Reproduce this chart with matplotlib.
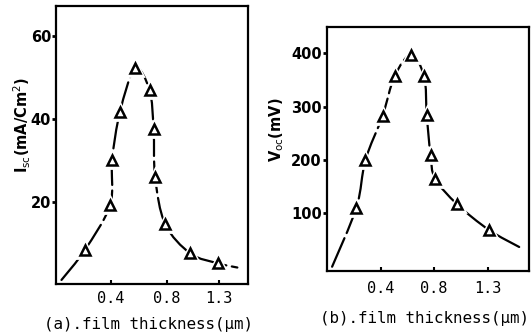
"""Isc and Voc versus film thickness, two panels (scanned figure look)."""

import matplotlib
matplotlib.use('Agg')
import matplotlib.pyplot as plt
from matplotlib.path import Path
from matplotlib.patches import PathPatch
import numpy as np

# panel (a): short-circuit current vs thickness
thick_a = [0.21, 0.395, 0.41, 0.466, 0.573, 0.677, 0.706, 0.717, 0.789, 1.026, 1.293]
isc = [8.3, 19.2, 30.1, 41.7, 52.2, 47.0, 37.5, 25.9, 14.6, 7.5, 5.1]
# where the drawn curve starts and ends
ends_a_x = [0.04, 1.475]
ends_a_y = [1.1, 4.1]

# panel (b): open-circuit voltage vs thickness
thick_b = [0.22, 0.287, 0.414, 0.504, 0.627, 0.726, 0.746, 0.774, 0.811, 1.014, 1.306]
voc = [111, 200, 283, 357, 397, 357, 284, 210, 165, 117, 69]
ends_b_x = [0.04, 1.585]
ends_b_y = [0, 37]

xticks = [0.4, 0.8, 1.3]
xtick_labels = ['0.4', '0.8', '1.3']
yticks_a = [20, 40, 60]
yticks_b = [100, 200, 300, 400]

# the hand-drawn x axis is not linear: ticks sit almost evenly spaced
KNOT_T = [0.0, 0.4, 0.8, 1.3, 2.0]
KNOT_A = [0.0, 54.7, 110.7, 163.0, 236.2]
KNOT_B = [0.0, 54.0, 107.3, 161.6, 237.6]

MONO = 'DejaVu Sans Mono'


def make_scale(knots):
    fwd = lambda t: np.interp(t, KNOT_T, knots)
    inv = lambda u: np.interp(u, knots, KNOT_T)
    return fwd, inv


def smooth_path(xs, ys, fwd, inv, ysc):
    # Catmull-Rom through the points, as cubic Bezier segments
    p = np.column_stack([fwd(np.asarray(xs, float)), np.asarray(ys, float) * ysc])
    p = np.vstack([p[0], p, p[-1]])
    verts = [p[1]]
    codes = [Path.MOVETO]
    for i in range(1, len(p) - 2):
        c1 = p[i] + (p[i + 1] - p[i - 1]) / 6
        c2 = p[i + 1] - (p[i + 2] - p[i]) / 6
        verts += [c1, c2, p[i + 1]]
        codes += [Path.CURVE4] * 3
    v = np.array(verts)
    v[:, 0] = inv(v[:, 0])
    v[:, 1] = v[:, 1] / ysc
    return Path(v, codes)


def draw_panel(ax, xs, ys, ex, ey, knots, ysc):
    fwd, inv = make_scale(knots)
    ax.set_xscale('function', functions=(fwd, inv))
    line_x = [ex[0]] + list(xs) + [ex[1]]
    line_y = [ey[0]] + list(ys) + [ey[1]]
    path = smooth_path(line_x, line_y, fwd, inv, ysc)
    ax.add_patch(PathPatch(path, fill=False, ec='black', lw=1.6,
                           ls=(0, (14, 2.5)), capstyle='round', zorder=2))
    # white halo so the line breaks around each triangle
    ax.plot(xs, ys, ls='none', marker='^', ms=11, mfc='white', mec='white',
            mew=2, zorder=3)
    ax.plot(xs, ys, ls='none', marker='^', ms=7.5, mfc='white', mec='black',
            mew=1.8, zorder=4)
    for s in ax.spines.values():
        s.set_linewidth(1.6)
    ax.set_xticks(xticks, xtick_labels, fontfamily=MONO, fontsize=11)
    ax.tick_params(axis='x', direction='in', length=3, width=1.5)
    ax.tick_params(axis='y', direction='out', length=3, width=2, pad=0.5,
                   labelsize=10.5)


fig = plt.figure(figsize=(5.32, 3.36), dpi=100)

# ysc: pixels per y unit, so the curve is smoothed in screen proportions
ax_a = fig.add_axes([0.1053, 0.1533, 0.3615, 0.8289])
draw_panel(ax_a, thick_a, isc, ends_a_x, ends_a_y, KNOT_A, 4.14)
ax_a.set_xlim(0, 1.58)
ax_a.set_ylim(0, 67.3)
ax_a.set_yticks(yticks_a)
for lab in ax_a.get_yticklabels():
    lab.set_fontweight('bold')
ax_a.tick_params(axis='x', pad=5)

ax_b = fig.add_axes([0.6141, 0.1935, 0.3808, 0.7253])
draw_panel(ax_b, thick_b, voc, ends_b_x, ends_b_y, KNOT_B, 0.533)
ax_b.set_xlim(0, 1.678)
ax_b.set_ylim(-8, 449)
ax_b.set_yticks(yticks_b)
for lab in ax_b.get_yticklabels():
    lab.set_fontweight('bold')
ax_b.tick_params(axis='x', pad=7)

# axis titles
fig.text(22 / 532, 1 - 125 / 336, r'I$_{\rm sc}$(mA/Cm$^{2}$)', rotation=90,
         ha='center', va='center', fontsize=10.5, fontweight='bold')
fig.text(277 / 532, 1 - 130 / 336, r'V$_{\rm oc}$(mV)', rotation=90,
         ha='center', va='center', fontsize=10.5, fontweight='bold')
fig.text(148 / 532, 1 - 325 / 336, '(a).film thickness(μm)', ha='center',
         va='center', fontfamily=MONO, fontsize=11.4)
fig.text(425 / 532, 1 - 319 / 336, '(b).film thickness(μm)', ha='center',
         va='center', fontfamily=MONO, fontsize=11.4)

fig.savefig('out.png', dpi=100)
